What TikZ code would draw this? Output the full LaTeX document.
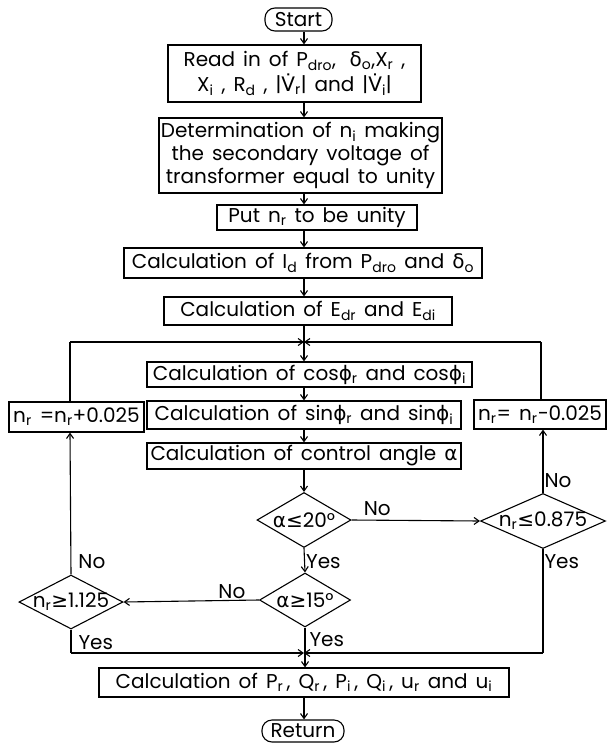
\documentclass[tikz,border=0pt]{standalone}
\usepackage{fontspec}
\setmainfont{Poppins}
\newfontfamily\grk{DejaVu Sans}
\usepackage{tikz}
\usetikzlibrary{arrows.meta, calc, positioning, shapes.geometric}

\newcommand{\sbs}[1]{\textsubscript{#1}}
\newcommand{\dotV}{{\grk V\char"0307}}
\newcommand{\flowfont}{\fontsize{20}{25}\selectfont\spaceskip=0.4em plus 0.1em\relax}

\begin{document}
\begin{tikzpicture}[
    x=1pt, y=-1pt,
    font=\flowfont,
    box/.style={draw, line width=1.1pt, inner sep=0pt, align=center},
    term/.style={draw, line width=1.1pt, rounded corners=10pt, inner sep=0pt},
    decision/.style={draw, diamond, line width=1.1pt, inner sep=0pt},
    arrow/.style={-{Straight Barb[length=5pt, width=7pt]}, line width=1.1pt},
    line/.style={line width=1.1pt},
    tag/.style={inner sep=1pt}
]
    \useasboundingbox (0,0) rectangle (608,744);
    \coordinate (axis) at (304,0);

    % main column
    \node[term, minimum width=67, minimum height=23] (start) at (298.5,19.5) {Start};
    \node[box, minimum width=253, minimum height=57] (read) at (294.5,73.5)
    {Read in of P\sbs{dro},\; {\grk δ}\sbs{o},X\sbs{r} ,\\ X\sbs{i} , R\sbs{d} , |\dotV\sbs{r}| and |\dotV\sbs{i}|};
    \node[box, minimum width=283, minimum height=75] (det) at (300.5,155.5)
    {Determination of n\sbs{i} making\\[-2pt]the secondary voltage of\\[-2pt]transformer equal to unity};
    \node[box, minimum width=200, minimum height=25] (put) at (317,217.5) {Put n\sbs{r} to be unity};
    \node[box, minimum width=358, minimum height=30] (idc) at (303,263)
    {Calculation of I\sbs{d} from P\sbs{dro} and {\grk δ}\sbs{o}};
    \node[box, minimum width=288, minimum height=28] (edc) at (308,311)
    {Calculation of E\sbs{dr} and E\sbs{di}};
    \node[box, minimum width=325, minimum height=25] (cosc) at (309.5,374.5)
    {Calculation of cos{\grk ϕ}\sbs{r} and cos{\grk ϕ}\sbs{i}};
    \node[box, minimum width=314, minimum height=28] (sinc) at (304,415)
    {Calculation of sin{\grk ϕ}\sbs{r} and sin{\grk ϕ}\sbs{i}};
    \node[box, minimum width=314, minimum height=26] (ctrl) at (304,456)
    {Calculation of control angle {\grk α}};

    % side boxes
    \node[box, minimum width=135, minimum height=30] (incr) at (76.5,417) {n\sbs{r} =n\sbs{r}+0.025};
    \node[box, minimum width=132, minimum height=29] (decr) at (540,414.5) {n\sbs{r}= n\sbs{r}−0.025};

    % decisions
    \node[decision, minimum width=94, minimum height=55, label=center:{{\grk α≤}20°}] (d20) at (304,520) {};
    \node[decision, minimum width=125, minimum height=55, label=center:{n\sbs{r}{\grk ≤}0.875}] (d875) at (543,521) {};
    \node[decision, minimum width=91, minimum height=54, label=center:{{\grk α≥}15°}] (d15) at (305,600) {};
    \node[decision, minimum width=104, minimum height=54, label=center:{n\sbs{r}{\grk ≥}1.125}] (d1125) at (71,602) {};

    \node[box, minimum width=410, minimum height=29] (outc) at (304,682.5)
    {Calculation of P\sbs{r}\,, Q\sbs{r}\,, P\sbs{i}\,, Q\sbs{i}\,, u\sbs{r} and u\sbs{i}};
    \node[term, minimum width=82, minimum height=22] (ret) at (303,731) {Return};

    % loop corners
    \coordinate (top) at (304,342);
    \coordinate (low) at (304,653);
    \coordinate (lx) at (70,0);
    \coordinate (rx) at (541,0);

    % main arrows
    \draw[arrow] (start.south -| axis) -- (read.north -| axis);
    \draw[arrow] (read.south -| axis) -- (det.north -| axis);
    \draw[arrow] (det.south -| axis) -- (put.north -| axis);
    \draw[arrow] (put.south -| axis) -- (idc.north -| axis);
    \draw[arrow] (idc.south -| axis) -- (edc.north -| axis);
    \draw[arrow] (edc.south -| axis) -- (cosc.north -| axis);
    \draw[arrow] (cosc.south -| axis) -- (sinc.north -| axis);
    \draw[arrow] (sinc.south -| axis) -- (ctrl.north -| axis);
    \draw[arrow] (ctrl.south -| axis) -- (d20.north);
    \draw[arrow] (d20.south) -- node[tag, right, pos=0.55] {Yes} (d15.north);
    \draw[arrow] (d15.south) -- node[tag, right, pos=0.3, xshift=3pt] {Yes} (outc.north -| d15.south);
    \draw[arrow] (outc.south -| axis) -- (ret.north -| axis);

    % branches
    \draw[arrow] (d20.east) -- node[tag, above, pos=0.2, yshift=3pt] {No} (d875.west);
    \draw[arrow] (d15.west) -- node[tag, above, pos=0.2] {No} (d1125.east);
    \draw[arrow] (d875.north) -- node[tag, right, pos=0.2] {No} (decr.south -| d875.north);
    \draw[arrow] (d1125.north) -- node[tag, right, pos=0.09, xshift=6pt] {No} (incr.south -| lx);
    \draw[line] (incr.north -| lx) -- (top -| lx);
    \draw[arrow] (top -| lx) -- (top);
    \draw[line] (decr.north -| rx) -- (top -| rx);
    \draw[arrow] (top -| rx) -- (top);
    \draw[line] (d1125.south) -- node[tag, right, pos=0.55, xshift=6pt] {Yes} (low -| d1125.south);
    \draw[arrow] (low -| d1125.south) -- (low);
    \draw[line] (d875.south) -- node[tag, right, pos=0.12] {Yes} (low -| d875.south);
    \draw[arrow] (low -| d875.south) -- (low);
\end{tikzpicture}
\end{document}
